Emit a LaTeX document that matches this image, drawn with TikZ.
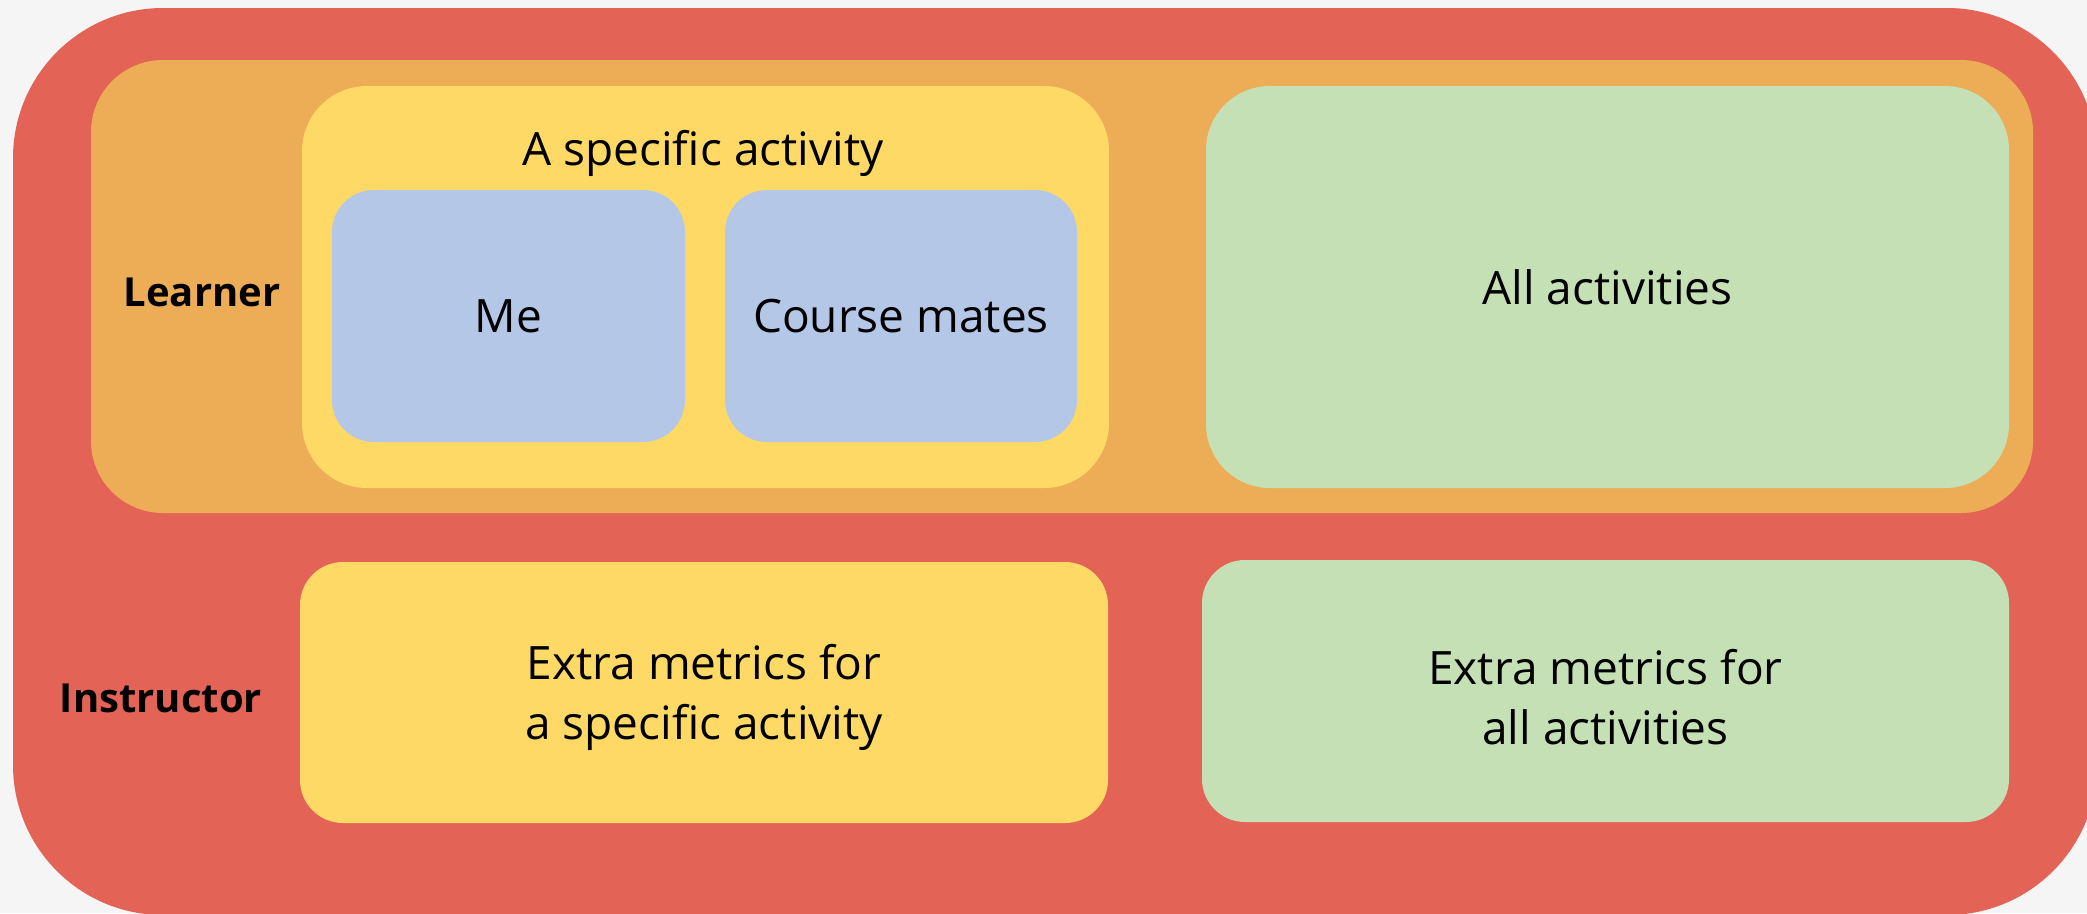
\documentclass[tikz,border=0pt]{standalone}
\usepackage{fontspec}
\setmainfont{Open Sans}
\definecolor{bgc}{HTML}{F5F5F5}
\definecolor{redc}{HTML}{E46357}
\definecolor{orangec}{HTML}{EDAD56}
\definecolor{yellowc}{HTML}{FFD966}
\definecolor{bluec}{HTML}{B4C7E7}
\definecolor{greenc}{HTML}{C5E0B4}
\begin{document}
\begin{tikzpicture}[x=1pt,y=-1pt,
  rbox/.style={rectangle, inner sep=0pt, draw=none, align=center,
    font=\fontsize{46}{60}\selectfont},
  twoline/.style={inner sep=0pt, align=center, font=\fontsize{46}{60}\selectfont},
  rolelabel/.style={inner sep=0pt, anchor=base, font=\fontsize{40}{50}\selectfont\bfseries}]
\useasboundingbox (0,0) rectangle (2087,913);
\fill[bgc] (0,0) rectangle (2087,913);
\node[rbox, fill=redc, minimum width=2084pt, minimum height=907pt, rounded corners=150pt] (outer) at (1055,461.5) {};
\node[rbox, fill=orangec, minimum width=1942pt, minimum height=453pt, rounded corners=72pt] (learnerbox) at (1062,286.5) {};
\node[rbox, fill=yellowc, minimum width=807pt, minimum height=402pt, rounded corners=65pt] (act) at (705.5,287) {};
\node[rbox, fill=bluec, minimum width=353pt, minimum height=252pt, rounded corners=42pt] (me) at (508.5,316) {Me};
\node[rbox, fill=bluec, minimum width=352pt, minimum height=252pt, rounded corners=42pt] (mates) at (901,316) {Course mates};
\node[rbox, fill=greenc, minimum width=803pt, minimum height=402pt, rounded corners=64pt] (all) at (1607.5,287) {All activities};
\node[rbox, fill=yellowc, minimum width=808pt, minimum height=261pt, rounded corners=43pt] (extraact) at (704,692.5) {};
\node[rbox, fill=greenc, minimum width=807pt, minimum height=262pt, rounded corners=43pt] (extraall) at (1605.5,691) {};
\node[twoline] (extraacttext) at ([yshift=-5pt]extraact.center) {Extra metrics for\\a specific activity};
\node[twoline] (extraalltext) at ([yshift=-6pt]extraall.center) {Extra metrics for\\all activities};
\node[inner sep=0pt, anchor=base, font=\fontsize{46}{58}\selectfont] (acttitle) at (703,165) {A specific activity};
\node[rolelabel] (learner) at (202,306) {Learner};
\node[rolelabel] (instructor) at (161,712) {Instructor};
\end{tikzpicture}
\end{document}
